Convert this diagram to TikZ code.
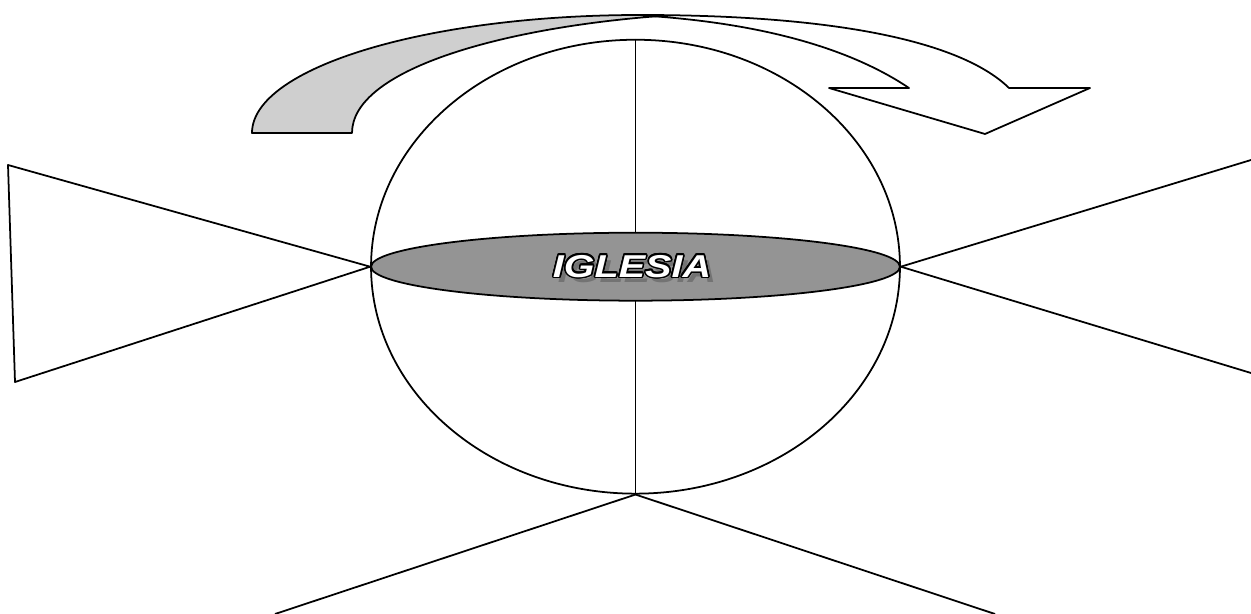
\documentclass[tikz,border=0pt]{standalone}
\usepackage{fontspec}
\newfontfamily\bannerfont[FakeStretch=1.25]{Liberation Sans}
\usepackage{contour}
\contourlength{0.9pt}
\contournumber{16}
\usetikzlibrary{shapes.geometric}
\tikzset{
  outline/.style={draw, line width=1pt, line join=round},
  sphere/.style={draw, line width=1pt, ellipse, minimum width=10.58cm, minimum height=9.08cm, inner sep=0pt},
  equator/.style={draw, line width=1pt, ellipse, fill=black!42, minimum width=10.58cm, minimum height=1.36cm, inner sep=0pt},
  banner/.style={font=\bannerfont\bfseries\itshape\fontsize{18}{21}\selectfont, inner sep=0pt},
  bannershadow/.style={banner, text=black!55}
}
\begin{document}
\begin{tikzpicture}[x=0.02cm,y=-0.02cm]
  \useasboundingbox (0,0) rectangle (1251,614);
  % turning arrow over the globe
  \draw[outline, fill=black!19] (252,133) .. controls (252,68) and (426,15) .. (640,15) -- (660,16) .. controls (500,28) and (352,70) .. (352,133) -- cycle;
  \draw[outline, fill=white] (640,15) .. controls (850,15) and (965,45) .. (1009,88) -- (1090,88) -- (985,134) -- (829,88) -- (909,88) .. controls (860,55) and (780,25) .. (650,16) -- cycle;
  % globe
  \node[sphere] (globe) at (635.5,266.7) {};
  \draw[outline] (globe.north) -- (globe.south);
  \node[equator] (band) at (635.5,266.7) {};
  \node[bannershadow] (titleshadow) at (637,272) {IGLESIA};
  \node[banner] (title) at (632,267) {\contour{black}{\textcolor{white}{IGLESIA}}};
  % rays
  \coordinate (lt) at (8,165);
  \coordinate (lb) at (15,382);
  \coordinate (rt) at (1251,160);
  \coordinate (rb) at (1251,373);
  \coordinate (bl) at (275,614);
  \coordinate (br) at (995,614);
  \draw[outline] (globe.west) -- (lt) -- (lb) -- cycle;
  \draw[outline] (globe.east) -- (rt);
  \draw[outline] (globe.east) -- (rb);
  \draw[outline] (globe.south) -- (bl);
  \draw[outline] (globe.south) -- (br);
\end{tikzpicture}
\end{document}
